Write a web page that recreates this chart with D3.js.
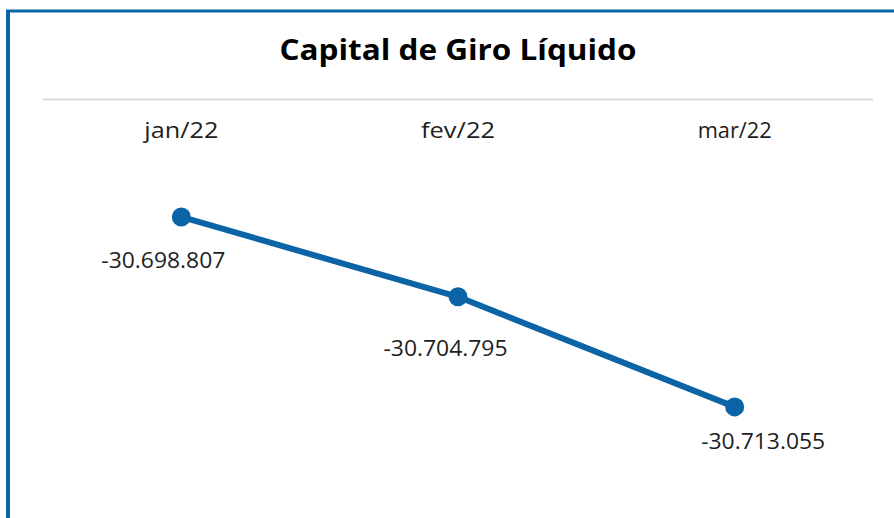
<!DOCTYPE html>
<html><head><meta charset="utf-8">
<script src="https://cdn.jsdelivr.net/npm/d3@7"></script>
<style>body{margin:0;background:#fff}svg{display:block}</style>
</head><body>
<script>
const title = "Capital de Giro Líquido";
const categories = ["jan/22", "fev/22", "mar/22"];
const values = [-30698807, -30704795, -30713055];
const yDomain = [-30720000, -30690000];

const W = 894, H = 518;
const color = "#0a64a5";
const font = "'Century Gothic','Open Sans','DejaVu Sans',sans-serif";
const svg = d3.select("body").append("svg").attr("width", W).attr("height", H);

svg.append("rect").attr("width", W).attr("height", H).attr("fill", "#fff");
// frame
svg.append("line").attr("x1", 8).attr("x2", 8).attr("y1", 10).attr("y2", H).attr("stroke", color).attr("stroke-width", 4);
svg.append("line").attr("x1", 6).attr("x2", W).attr("y1", 11).attr("y2", 11).attr("stroke", color).attr("stroke-width", 3);

const x = d3.scaleBand().domain(categories).range([43, 873]);
const y = d3.scaleLinear().domain(yDomain).range([499.5, 99.5]);

// fit text widths to the reference look (wide geometric face)
function fit(sel, w) {
  sel.each(function () {
    this.setAttribute("textLength", w);
    this.setAttribute("lengthAdjust", "spacingAndGlyphs");
  });
}

svg.append("text").attr("x", 458).attr("y", 59.5).attr("text-anchor", "middle")
  .attr("font-family", font).attr("font-weight", "bold").attr("font-size", 28)
  .attr("fill", "#000").text(title).call(fit, 357);

// top gridline / axis
svg.append("line").attr("x1", 43).attr("x2", 873).attr("y1", y(yDomain[1])).attr("y2", y(yDomain[1]))
  .attr("stroke", "#d9d9d9").attr("stroke-width", 2);

const xAxis = svg.append("g").attr("transform", `translate(0,${y(yDomain[1])})`)
  .call(d3.axisTop(x).tickSize(0).tickPadding(0));
xAxis.select(".domain").remove();
xAxis.selectAll("text").attr("font-family", font).attr("font-size", 22).attr("fill", "#1e1e1e")
  .attr("dy", 0).attr("y", 38.5).attr("text-anchor", "middle").call(fit, 74);

const pts = categories.map((c, i) => ({c, v: values[i]}));
const cx = d => x(d.c) + x.bandwidth() / 2;

svg.append("path").datum(pts)
  .attr("d", d3.line().x(cx).y(d => y(d.v)))
  .attr("fill", "none").attr("stroke", color).attr("stroke-width", 6).attr("stroke-linejoin", "round");

svg.selectAll("circle.m").data(pts).join("circle").attr("class", "m")
  .attr("cx", cx).attr("cy", d => y(d.v)).attr("r", 9.5).attr("fill", color);

const fmt = v => (v < 0 ? "-" : "") + d3.format(",")(Math.abs(v)).replace(/,/g, ".");
const labelDx = [-18, -12.5, 28.5];
const labelDy = [50.6, 59.2, 41.6];
svg.selectAll("text.lbl").data(pts).join("text").attr("class", "lbl")
  .attr("x", (d, i) => cx(d) + labelDx[i]).attr("y", (d, i) => y(d.v) + labelDy[i])
  .attr("text-anchor", "middle").attr("font-family", font).attr("font-size", 22).attr("fill", "#1e1e1e")
  .text(d => fmt(d.v)).call(fit, 124);
</script>
</body></html>
